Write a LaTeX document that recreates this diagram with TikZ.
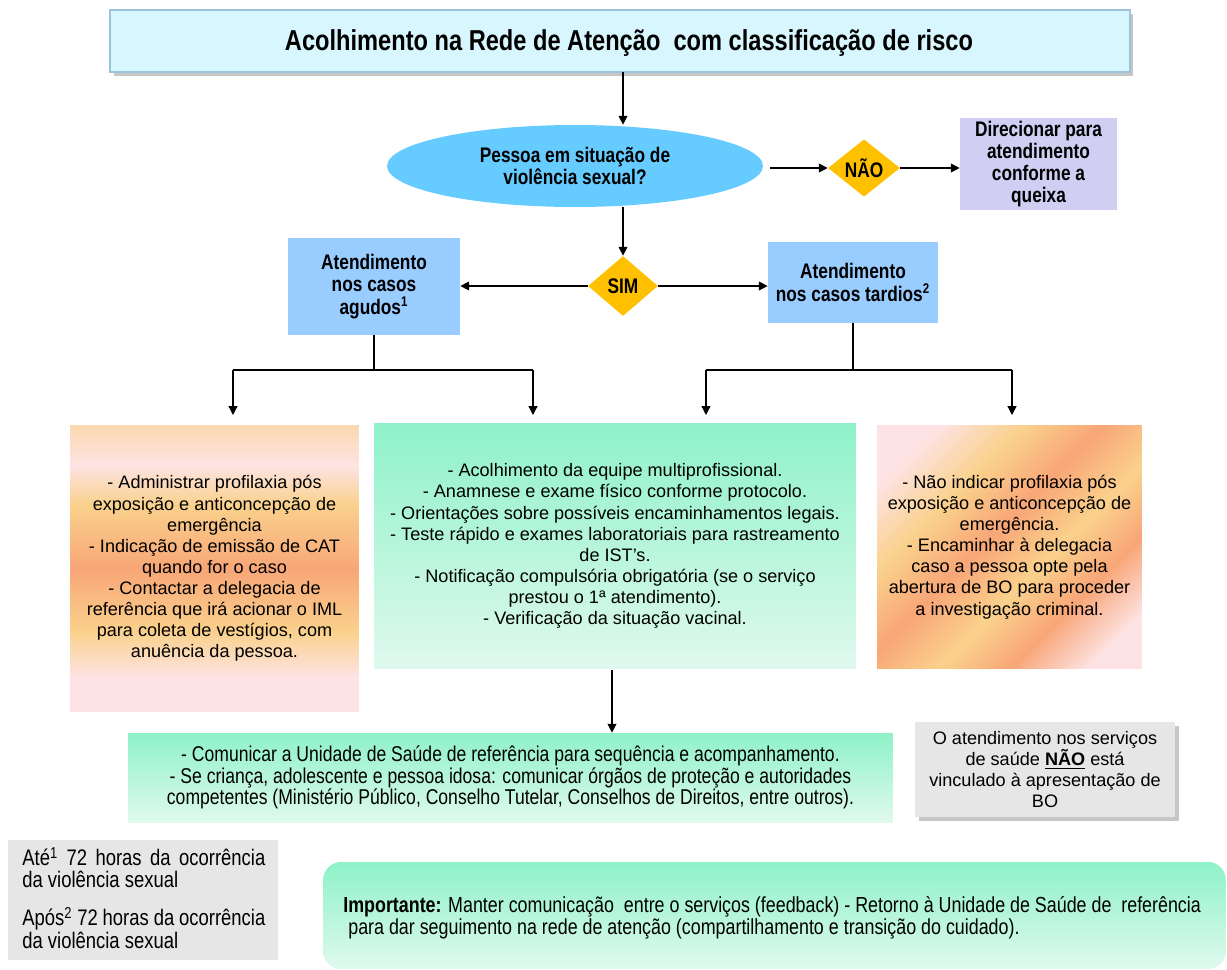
\documentclass[tikz,border=0pt]{standalone}
\usepackage{fontspec}
\setmainfont{Liberation Sans}
\newfontfamily\narrowfont[FakeStretch=0.82]{Liberation Sans}
\usetikzlibrary{shapes.geometric, arrows.meta, positioning, shadows}
\usepackage{xcolor}

\definecolor{cianoclaro}{HTML}{D8F6FD}
\definecolor{cianoborda}{HTML}{9CC3DC}
\definecolor{azulelipse}{HTML}{66CCFF}
\definecolor{azulcaixa}{HTML}{99CCFF}
\definecolor{amarelo}{HTML}{FFC000}
\definecolor{lilas}{HTML}{D0CEF3}
\definecolor{cinza}{HTML}{E6E6E6}
\definecolor{mentaforte}{HTML}{8EF2C8}
\definecolor{mentaclara}{HTML}{E0F9EE}
\definecolor{rosaclaro}{HTML}{FDE3E4}
\definecolor{pessego}{HTML}{FAD18C}
\definecolor{laranja}{HTML}{F8A677}

\pgfdeclareverticalshading{faixalaranja}{100bp}{color(0bp)=(rosaclaro); color(25bp)=(rosaclaro); color(31bp)=(rosaclaro); color(39bp)=(pessego); color(50bp)=(laranja); color(61bp)=(pessego); color(68bp)=(rosaclaro); color(75bp)=(pessego!60!rosaclaro); color(100bp)=(pessego!60!rosaclaro)}
\pgfdeclareverticalshading{faixadiagonal}{100bp}{color(0bp)=(rosaclaro); color(15bp)=(rosaclaro); color(22bp)=(rosaclaro); color(33bp)=(laranja); color(43bp)=(pessego); color(54bp)=(laranja); color(65bp)=(pessego); color(77bp)=(rosaclaro); color(100bp)=(rosaclaro)}

\begin{document}
\begin{tikzpicture}[x=0.02cm, y=-0.02cm,
    seta/.style={-{Triangle[length=5pt,width=5pt]}, line width=0.7pt},
    linha/.style={line width=0.7pt},
    cabeca/.style={font=\narrowfont\bfseries\fontsize{12}{12.6}\selectfont, align=center, inner sep=0pt},
    corpo/.style={font=\fontsize{10.3}{12}\selectfont, align=center, inner sep=0pt},
    estreito/.style={font=\narrowfont\fontsize{12.2}{12.2}\selectfont, inner sep=0pt},
    losango/.style={cabeca, diamond, fill=amarelo},
    caixaazul/.style={cabeca, rectangle, fill=azulcaixa},
    caixalaranja/.style={corpo, rectangle, shade, shading=faixalaranja},
    caixaverde/.style={rectangle, top color=mentaforte, bottom color=mentaclara},
    caixacinza/.style={rectangle, fill=cinza}]

    \useasboundingbox (0,0) rectangle (1227,970);

    % topo
    \node[rectangle, fill=cianoclaro, draw=cianoborda, line width=1pt,
          drop shadow={shadow xshift=2pt, shadow yshift=-2pt, opacity=0.45},
          minimum width=20.4cm, minimum height=1.24cm] (titulo) at (620,41) {};
    \node[font=\narrowfont\bfseries\fontsize{16.4}{18}\selectfont, inner sep=0pt] (titulotexto) at (629,43)
        {Acolhimento na Rede de Atenção\ \ com classificação de risco};

    \node[cabeca, ellipse, fill=azulelipse, minimum width=7.52cm, minimum height=1.64cm] (pessoa) at (575,166)
        {Pessoa em situação de\\violência sexual?};
    \node[losango, minimum width=1.44cm, minimum height=1.14cm] (nao) at (864,168) {NÃO};
    \node[cabeca, rectangle, fill=lilas, minimum width=3.14cm, minimum height=1.84cm] (direcionar) at (1038.5,164)
        {Direcionar para\\atendimento\\conforme a\\queixa};
    \node[losango, minimum width=1.4cm, minimum height=1.2cm] (sim) at (623,286) {SIM};
    \node[caixaazul, minimum width=3.44cm, minimum height=1.94cm] (agudos) at (374,286.5)
        {Atendimento\\nos casos\\agudos\textsuperscript{1}};
    \node[caixaazul, minimum width=3.4cm, minimum height=1.62cm] (tardios) at (853,282.5)
        {Atendimento\\nos casos tardios\textsuperscript{2}};

    \coordinate (entrada) at (623,72);
    \coordinate (saidaNao) at (770,168);
    \coordinate (topoSim) at (623,256);
    \draw[seta] (entrada) -- (entrada |- pessoa.north);
    \draw[seta] (saidaNao) -- (nao.west);
    \draw[seta] (nao.east) -- (nao.east -| direcionar.west);
    \draw[seta] (topoSim |- pessoa.south) -- (sim.north);
    \draw[seta] (sim.west) -- (sim.west -| agudos.east);
    \draw[seta] (sim.east) -- (sim.east -| tardios.west);

    % caixas do meio
    \node[caixalaranja, minimum width=5.78cm, minimum height=5.74cm] (profilaxia) at (214.5,568.5)
        {- Administrar profilaxia pós\\exposição e anticoncepção de\\emergência\\- Indicação de emissão de CAT\\quando for o caso\\- Contactar a delegacia de\\referência que irá acionar o IML\\para coleta de vestígios, com\\anuência da pessoa.};
    \node[caixaverde, corpo, minimum width=9.64cm, minimum height=4.92cm] (equipe) at (615,546)
        {- Acolhimento da equipe multiprofissional.\\- Anamnese e exame físico conforme protocolo.\\- Orientações sobre possíveis encaminhamentos legais.\\- Teste rápido e exames laboratoriais para rastreamento\\de IST’s.\\- Notificação compulsória obrigatória (se o serviço\\prestou o 1ª atendimento).\\- Verificação da situação vacinal.};
    \node[caixalaranja, shading=faixadiagonal, shading angle=45, minimum width=5.3cm, minimum height=4.88cm] (tardia) at (1009.5,547)
        {- Não indicar profilaxia pós\\exposição e anticoncepção de\\emergência.\\- Encaminhar à delegacia\\caso a pessoa opte pela\\abertura de BO para proceder\\a investigação criminal.};

    \coordinate (ramoA) at (374,370);
    \coordinate (pontaA1) at (233,415);
    \coordinate (pontaA2) at (533,415);
    \coordinate (ramoB) at (853,370);
    \coordinate (pontaB1) at (706,415);
    \coordinate (pontaB2) at (1012,415);
    \draw[linha] (agudos.south) -- (ramoA);
    \draw[linha] (pontaA1 |- ramoA) -- (pontaA2 |- ramoA);
    \draw[seta] (pontaA1 |- ramoA) -- (pontaA1);
    \draw[seta] (pontaA2 |- ramoA) -- (pontaA2);
    \draw[linha] (tardios.south) -- (ramoB);
    \draw[linha] (pontaB1 |- ramoB) -- (pontaB2 |- ramoB);
    \draw[seta] (pontaB1 |- ramoB) -- (pontaB1);
    \draw[seta] (pontaB2 |- ramoB) -- (pontaB2);

    % parte de baixo
    \node[caixaverde, estreito, font=\narrowfont\fontsize{12.2}{12.4}\selectfont, align=center, minimum width=15.3cm, minimum height=1.78cm] (comunicar) at (510.5,777.5)
        {- Comunicar a Unidade de Saúde de referência para sequência e acompanhamento.\\- Se criança, adolescente e pessoa idosa: comunicar órgãos de proteção e autoridades\\competentes (Ministério Público, Conselho Tutelar, Conselhos de Direitos, entre outros).};
    \coordinate (saidaEquipe) at (612,670);
    \draw[seta] (saidaEquipe) -- (saidaEquipe |- comunicar.north);

    \node[caixacinza, corpo, drop shadow={shadow xshift=2pt, shadow yshift=-2pt, opacity=0.45},
          minimum width=5.2cm, minimum height=1.9cm] (aviso) at (1045,769.5)
        {O atendimento nos serviços\\de saúde \underline{\textbf{NÃO}} está\\vinculado à apresentação de\\BO};

    \node[caixacinza, minimum width=5.4cm, minimum height=2.4cm] (legenda) at (143,900) {};
    \node[estreito, font=\narrowfont\fontsize{12.8}{12.6}\selectfont, align=left, anchor=north west] (legendatexto) at (22,847)
        {\makebox[4.86cm][s]{Até\textsuperscript{1} 72 horas da ocorrência}\\da violência sexual\\[9pt]\makebox[4.86cm][s]{Após\textsuperscript{2} 72 horas da ocorrência}\\da violência sexual};

    \node[caixaverde, rounded corners=0.36cm, minimum width=18.06cm, minimum height=2.14cm] (importante) at (774.5,915.5) {};
    \node[estreito, font=\narrowfont\fontsize{12.4}{11.6}\selectfont, align=left, anchor=west] (importantetexto) at (343,918)
        {\textbf{Importante:} Manter comunicação\ \ entre o serviços (feedback) - Retorno à Unidade de Saúde de\ \ referência\\\ para dar seguimento na rede de atenção (compartilhamento e transição do cuidado).};
\end{tikzpicture}
\end{document}
